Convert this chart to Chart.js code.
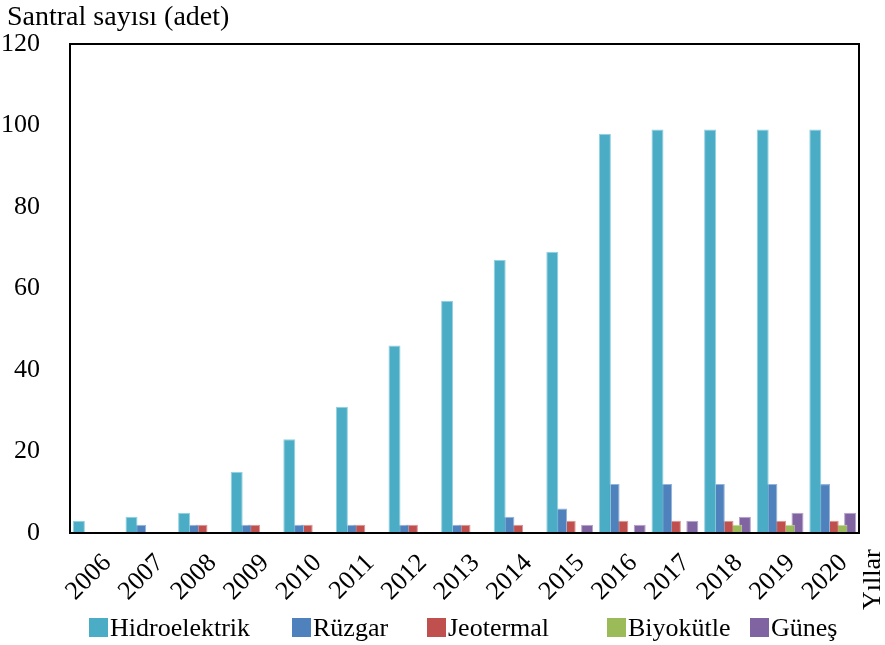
<!DOCTYPE html>
<html>
<head>
<meta charset="utf-8">
<script src="https://cdn.jsdelivr.net/npm/chart.js@4.4.1/dist/chart.umd.min.js"></script>
<style>
  html, body { margin: 0; padding: 0; background: #fff; }
  #wrap { position: relative; width: 885px; height: 645px; }
  .leg { position: absolute; top: 612px; font: 26px "Liberation Serif", "Times New Roman", serif; color: #000; white-space: nowrap; line-height: 32px; }
  .leg i { display: inline-block; width: 19px; height: 19px; margin-right: 2px; vertical-align: -1px; }
</style>
</head>
<body>
<div id="wrap">
  <canvas id="chart" width="885" height="645"></canvas>
  <div id="legend"></div>
</div>
<script>
// yıllar ve santral sayıları
const years = ["2006", "2007", "2008", "2009", "2010", "2011", "2012", "2013", "2014", "2015", "2016", "2017", "2018", "2019", "2020"];
const hidro = [3, 4, 5, 15, 23, 31, 46, 57, 67, 69, 98, 99, 99, 99, 99];
const ruzgar = [0, 2, 2, 2, 2, 2, 2, 2, 4, 6, 12, 12, 12, 12, 12];
const jeotermal = [0, 0, 2, 2, 2, 2, 2, 2, 2, 3, 3, 3, 3, 3, 3];
const biyokutle = [0, 0, 0, 0, 0, 0, 0, 0, 0, 0, 0, 0, 2, 2, 2];
const gunes = [0, 0, 0, 0, 0, 0, 0, 0, 0, 2, 2, 3, 4, 5, 5];
const yTicks = [0, 20, 40, 60, 80, 100, 120];

const seriesNames = ["Hidroelektrik", "Rüzgar", "Jeotermal", "Biyokütle", "Güneş"];
const seriesColors = ["#4BACC6", "#4F81BD", "#C0504D", "#9BBB59", "#8064A2"];
const seriesEdges = ["#93d0e0", "#95b3d9", "#dc9593", "#c3d79d", "#b4a4c9"];
const legendLeft = [89, 292, 427, 607, 750];

const FONT = '"Liberation Serif", "Times New Roman", serif';

// eksen çerçevesi ve başlıklar
const framePlugin = {
  id: "frame",
  afterDraw(chart) {
    const ctx = chart.ctx;
    const a = chart.chartArea;
    ctx.save();
    ctx.strokeStyle = "#000";
    ctx.lineWidth = 2;
    ctx.strokeRect(a.left, a.top, a.right - a.left, a.bottom - a.top);

    ctx.fillStyle = "#000";
    ctx.font = "28px " + FONT;
    ctx.textAlign = "left";
    ctx.textBaseline = "alphabetic";
    ctx.fillText("Santral sayısı (adet)", 7, 25);

    ctx.font = "26px " + FONT;
    ctx.translate(880, 610);
    ctx.rotate(-Math.PI / 2);
    ctx.fillText("Yıllar", 0, 0);
    ctx.restore();
  }
};

const datasets = [hidro, ruzgar, jeotermal, biyokutle, gunes].map((vals, i) => ({
  label: seriesNames[i],
  data: vals,
  backgroundColor: seriesColors[i],
  borderColor: seriesEdges[i],
  borderWidth: 1,
  borderSkipped: "bottom",
  categoryPercentage: 0.827,
  barPercentage: 1.38
}));

new Chart(document.getElementById("chart"), {
  type: "bar",
  data: { labels: years, datasets: datasets },
  options: {
    responsive: false,
    animation: false,
    devicePixelRatio: 1,
    layout: { padding: { left: 0, top: 44, right: 26, bottom: 0 } },
    plugins: {
      legend: { display: false },
      tooltip: { enabled: false }
    },
    scales: {
      x: {
        grid: { display: false },
        border: { display: false },
        ticks: {
          color: "#000",
          font: { family: FONT, size: 26 },
          minRotation: 45,
          maxRotation: 45,
          padding: 7,
          labelOffset: 11,
          autoSkip: false
        },
        afterFit(scale) { scale.height = 112; }
      },
      y: {
        min: 0,
        max: 120,
        grid: { display: false },
        border: { display: false },
        afterBuildTicks(scale) { scale.ticks = yTicks.map(v => ({ value: v })); },
        ticks: {
          color: "#000",
          font: { family: FONT, size: 26 },
          padding: 22
        },
        afterFit(scale) { scale.width = 70; }
      }
    }
  },
  plugins: [framePlugin]
});

// lejant
const legendEl = document.getElementById("legend");
seriesNames.forEach((name, i) => {
  const item = document.createElement("div");
  item.className = "leg";
  item.style.left = legendLeft[i] + "px";
  item.innerHTML = `<i style="background:${seriesColors[i]}"></i>${name}`;
  legendEl.appendChild(item);
});
</script>
</body>
</html>
